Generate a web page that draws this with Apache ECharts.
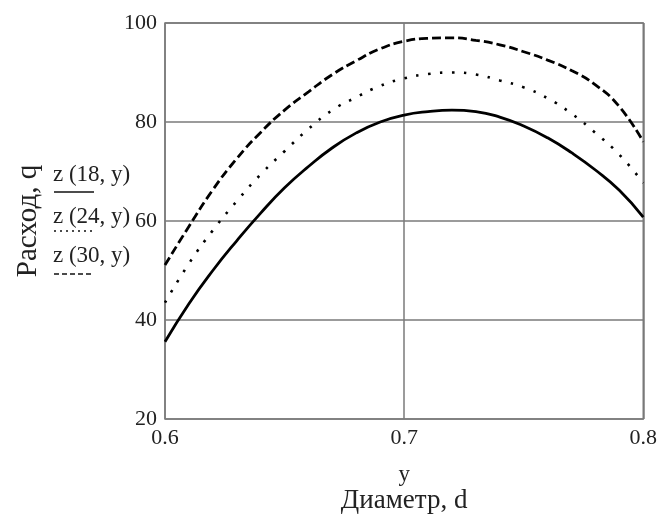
<!DOCTYPE html>
<html>
<head>
<meta charset="utf-8">
<script src="https://cdn.jsdelivr.net/npm/echarts@6/dist/echarts.min.js"></script>
<style>html,body{margin:0;padding:0;background:#fff}#c{width:660px;height:520px}</style>
</head>
<body>
<div id="c"></div>
<script>
const diameters = [0.60,0.61,0.62,0.63,0.64,0.65,0.66,0.67,0.68,0.69,0.70,0.71,0.72,0.73,0.74,0.75,0.76,0.77,0.78,0.79,0.80];
const z18 = [35.6,43.3,50.0,56.0,61.6,66.7,71.0,74.8,77.8,80.0,81.4,82.1,82.4,82.1,81.0,79.2,76.8,73.8,70.3,66.2,60.8];
const z24 = [43.5,51.4,58.1,64.0,69.4,74.1,78.6,82.4,85.0,87.3,88.8,89.7,90.0,89.6,88.4,87.0,84.8,81.7,77.8,73.4,67.7];
const z30 = [51.1,58.9,66.3,72.6,77.9,82.4,86.1,89.6,92.4,94.8,96.3,96.9,97.0,96.5,95.6,94.2,92.5,90.4,87.5,83.1,76.0];
const seriesNames = ['z (18, y)','z (24, y)','z (30, y)'];
const xTitle = 'y';
const xTitle2 = 'Диаметр, d';
const yTitle = 'Расход, q';

const FONT = '"Liberation Serif", "DejaVu Serif", serif';
const TXT = '#222';
const GRIDC = '#7a7a7a';

function pairs(vals){ return diameters.map((d,i)=>[d, vals[i]]); }

const chart = echarts.init(document.getElementById('c'), null, {renderer:'canvas'});
const legendY = [176, 218, 257];
const lineY = [192, 231, 274];
const dashes = [null, [2,4], [5,3]];
const graphics = [];
seriesNames.forEach((n,i)=>{
  graphics.push({type:'text', left:53, top:legendY[i]-13, style:{text:n, font:'23px '+FONT, fill:TXT}});
  graphics.push({type:'line', shape:{x1:54, y1:lineY[i], x2:94, y2:lineY[i]},
    style:{stroke:'#111', lineWidth:1.6, lineDash:dashes[i]}});
});

chart.setOption({
  animation:false,
  backgroundColor:'#fff',
  grid:{left:165, right:15, top:23, bottom:101, show:true, borderColor:GRIDC, borderWidth:1.5, backgroundColor:'transparent'},
  graphic: graphics,
  xAxis:{
    type:'value', min:0.6, max:0.8, interval:0.1,
    name: '{a|' + xTitle + '}\n{b|' + xTitle2 + '}', nameLocation:'middle', nameGap:44,
    nameTextStyle:{fontFamily:FONT, color:TXT,
      rich:{a:{fontFamily:FONT, fontSize:23, color:TXT, lineHeight:24},
            b:{fontFamily:FONT, fontSize:27, color:TXT, lineHeight:27}}},
    axisLine:{show:false}, axisTick:{show:false},
    axisLabel:{fontFamily:FONT, fontSize:22, color:TXT, margin:8, formatter:v=>v.toFixed(1)},
    splitLine:{show:true, lineStyle:{color:GRIDC, width:1.5}}
  },
  yAxis:{
    type:'value', min:20, max:100, interval:20,
    name: yTitle, nameLocation:'middle', nameGap:122, nameRotate:90,
    nameTextStyle:{fontFamily:FONT, fontSize:29, color:TXT},
    axisLine:{show:false}, axisTick:{show:false},
    axisLabel:{fontFamily:FONT, fontSize:22, color:TXT, margin:8},
    splitLine:{show:true, lineStyle:{color:GRIDC, width:1.5}}
  },
  series:[
    {name:seriesNames[0], type:'line', data:pairs(z18), smooth:0.5, showSymbol:false,
      lineStyle:{color:'#000', width:2.8, type:'solid'}},
    {name:seriesNames[1], type:'line', data:pairs(z24), smooth:0.5, showSymbol:false,
      lineStyle:{color:'#000', width:2.6, type:[2.5,9.5], cap:'butt'}},
    {name:seriesNames[2], type:'line', data:pairs(z30), smooth:0.5, showSymbol:false,
      lineStyle:{color:'#000', width:2.8, type:[9,4], cap:'butt'}}
  ]
});
</script>
</body>
</html>
